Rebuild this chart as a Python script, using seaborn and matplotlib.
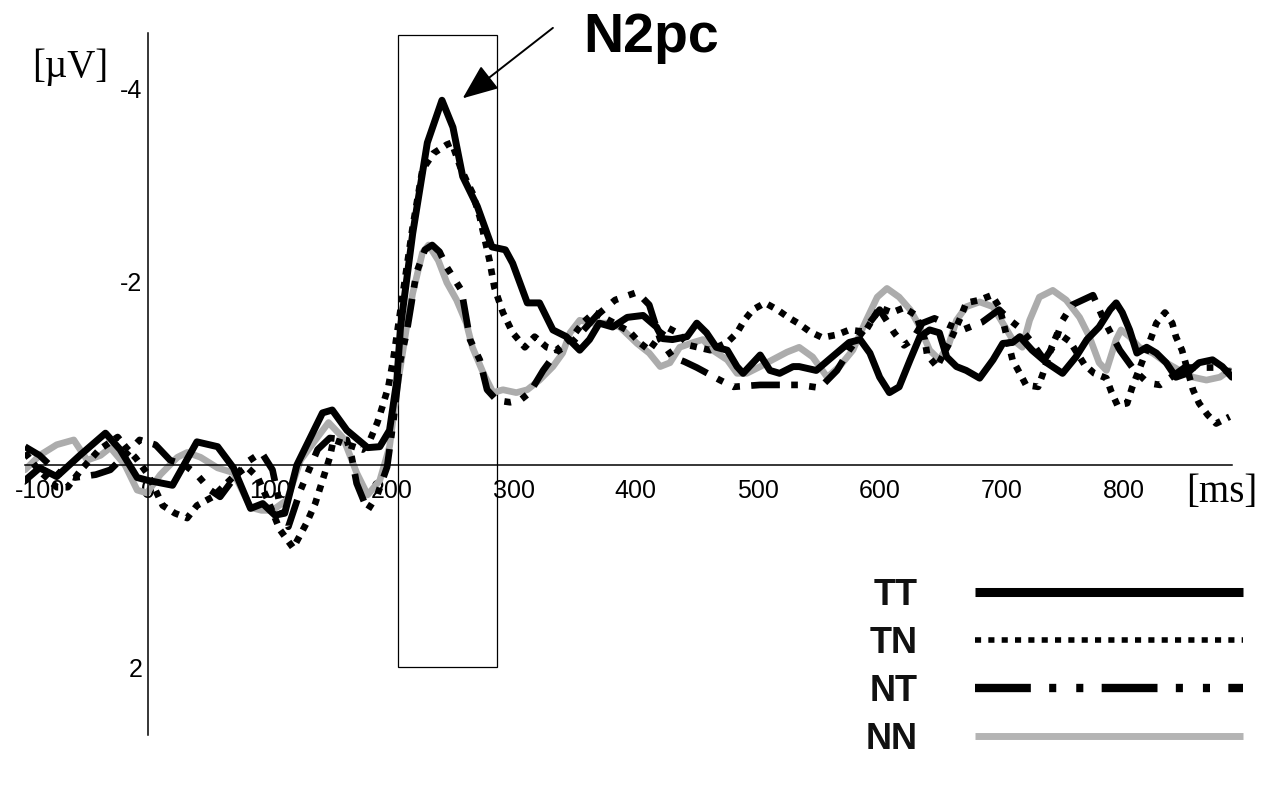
import numpy as np
import pandas as pd
import matplotlib
matplotlib.use("Agg")
import matplotlib.pyplot as plt
import matplotlib.transforms as mtransforms
from matplotlib.lines import Line2D
from matplotlib.patches import Rectangle
from matplotlib.font_manager import FontProperties
import seaborn as sns

# ---------------- data (ms, µV; negative up) ----------------
tt_ms = [-101, -89, -75, -56, -35, -23, -9, 0, 20, 40, 57, 70, 84, 94, 104, 112, 122, 143, 151, 163,
         180, 190, 198, 204, 207, 217, 229, 241, 250, 258, 270, 282, 293, 299, 311, 321, 332, 343, 354, 362,
         370, 381, 393, 406, 417, 422, 430, 442, 450, 458, 466, 475, 483, 488, 502, 510, 518, 529, 534, 548,
         561, 575, 584, 592, 600, 608, 616, 625, 633, 641, 649, 655, 663, 671, 682, 693, 701, 709, 715, 725,
         737, 750, 761, 770, 780, 789, 794, 799, 805, 811, 819, 827, 835, 843, 852, 862, 873, 881, 889]
tt_uv = [0.16, 0.03, 0.12, -0.10, -0.33, -0.16, 0.13, 0.16, 0.21, -0.24, -0.19, 0.03, 0.45, 0.40, 0.52, 0.50, 0.0, -0.54, -0.57, -0.36,
         -0.18, -0.19, -0.36, -0.88, -1.43, -2.40, -3.34, -3.78, -3.50, -2.99, -2.68, -2.26, -2.23, -2.09, -1.68, -1.68, -1.40, -1.33, -1.19, -1.30,
         -1.47, -1.43, -1.53, -1.55, -1.43, -1.31, -1.30, -1.33, -1.47, -1.37, -1.22, -1.19, -1.02, -0.95, -1.14, -0.98, -0.95, -1.02, -1.02, -0.98,
         -1.12, -1.27, -1.30, -1.16, -0.91, -0.75, -0.81, -1.09, -1.33, -1.40, -1.37, -1.12, -1.02, -0.98, -0.90, -1.09, -1.26, -1.27, -1.33, -1.19,
         -1.06, -0.95, -1.12, -1.30, -1.43, -1.61, -1.68, -1.58, -1.40, -1.16, -1.22, -1.16, -1.06, -0.91, -0.95, -1.06, -1.09, -1.02, -0.91]

tn_ms = [-101, -90, -75, -66, -55, -40, -25, -18, -10, 0, 12, 22, 32, 40, 53, 61, 70, 81, 90, 98,
         108, 119, 130, 137, 143, 149, 152, 159, 176, 182, 188, 192, 197, 201, 209, 217, 225, 234, 245, 249,
         256, 261, 266, 272, 280, 284, 291, 299, 309, 317, 327, 335, 348, 357, 366, 381, 395, 403, 411, 425,
         434, 444, 461, 475, 483, 489, 496, 506, 516, 525, 533, 543, 553, 565, 575, 588, 600, 610, 620, 630,
         637, 639, 647, 657, 666, 671, 682, 692, 698, 701, 709, 715, 720, 730, 734, 741, 746, 756, 768, 776,
         786, 790, 795, 803, 807, 811, 815, 823, 827, 834, 840, 843, 848, 857, 862, 869, 876, 887]
tn_uv = [-0.13, 0.05, 0.23, 0.23, 0.05, -0.16, -0.29, -0.18, -0.07, 0.10, 0.42, 0.50, 0.55, 0.42, 0.33, 0.23, 0.12, 0.02, 0.13, 0.36,
         0.67, 0.86, 0.60, 0.40, 0.16, -0.08, -0.26, -0.23, -0.16, -0.26, -0.44, -0.60, -0.81, -1.09, -1.78, -2.47, -3.06, -3.23, -3.32, -3.34,
         -3.09, -2.95, -2.82, -2.57, -2.12, -1.84, -1.58, -1.37, -1.22, -1.33, -1.22, -1.19, -1.33, -1.48, -1.58, -1.48, -1.38, -1.27, -1.19, -1.43,
         -1.37, -1.24, -1.19, -1.27, -1.37, -1.50, -1.61, -1.68, -1.61, -1.53, -1.47, -1.38, -1.32, -1.35, -1.40, -1.38, -1.63, -1.58, -1.63, -1.55,
         -1.30, -1.14, -1.02, -1.26, -1.52, -1.68, -1.71, -1.76, -1.64, -1.50, -1.09, -0.95, -0.83, -0.81, -0.95, -1.22, -1.37, -1.28, -1.04, -0.95,
         -0.90, -0.76, -0.62, -0.64, -0.80, -0.93, -1.06, -1.33, -1.47, -1.58, -1.47, -1.33, -1.19, -0.78, -0.64, -0.52, -0.43, -0.50]

nt_ms = [-101, -89, -75, -60, -43, -31, -19, -7, 6, 18, 30, 40, 51, 59, 69, 81, 93, 102, 108, 115,
         125, 139, 149, 163, 167, 171, 180, 188, 196, 201, 207, 212, 220, 227, 233, 239, 245, 257, 264, 272,
         278, 286, 297, 305, 313, 324, 335, 350, 368, 383, 401, 411, 420, 430, 440, 450, 469, 480, 502, 534,
         551, 565, 575, 586, 600, 612, 620, 627, 635, 645, 657, 668, 684, 698, 707, 715, 723, 735, 743, 750,
         758, 775, 784, 797, 809, 820, 830, 838, 850, 862, 875, 889]
nt_uv = [-0.19, -0.10, 0.07, 0.13, 0.10, 0.05, -0.10, -0.26, -0.21, -0.05, 0.0, 0.10, 0.26, 0.33, 0.16, -0.03, -0.13, 0.05, 0.41, 0.64,
         0.26, -0.16, -0.28, -0.26, -0.08, 0.19, 0.47, 0.31, 0.02, -0.44, -1.09, -1.37, -1.99, -2.23, -2.28, -2.21, -2.05, -1.81, -1.30, -1.09,
         -0.78, -0.67, -0.65, -0.67, -0.75, -0.98, -1.17, -1.30, -1.55, -1.71, -1.79, -1.66, -1.30, -1.12, -1.07, -1.01, -0.88, -0.81, -0.83, -0.83,
         -0.80, -0.98, -1.19, -1.38, -1.61, -1.37, -1.24, -1.30, -1.47, -1.52, -1.45, -1.40, -1.48, -1.61, -1.50, -1.42, -1.30, -1.09, -1.24, -1.50,
         -1.66, -1.76, -1.50, -1.19, -0.98, -0.85, -0.83, -0.90, -1.01, -1.01, -1.01, -0.96]

nn_ms = [-101, -89, -75, -61, -50, -39, -31, -19, -9, -1, 10, 24, 32, 43, 57, 70, 84, 93, 102, 114,
         125, 139, 148, 160, 171, 180, 190, 198, 204, 212, 217, 225, 230, 238, 245, 253, 261, 266, 275, 283,
         291, 302, 311, 321, 332, 340, 346, 354, 365, 376, 387, 401, 411, 420, 428, 436, 447, 455, 463, 475,
         483, 491, 502, 512, 524, 534, 545, 557, 567, 578, 589, 598, 606, 616, 625, 633, 641, 649, 657, 663,
         671, 682, 693, 701, 709, 717, 723, 731, 742, 753, 764, 772, 780, 786, 794, 798, 805, 813, 824, 835,
         846, 857, 868, 879, 887]
nn_uv = [0.05, -0.10, -0.21, -0.26, -0.05, -0.10, -0.18, 0.0, 0.26, 0.29, 0.10, -0.08, -0.13, -0.08, 0.03, 0.08, 0.44, 0.47, 0.47, 0.36,
         -0.05, -0.29, -0.44, -0.28, 0.08, 0.31, 0.16, -0.19, -0.78, -1.43, -1.78, -2.20, -2.28, -2.12, -1.89, -1.71, -1.47, -1.22, -0.95, -0.75,
         -0.78, -0.75, -0.78, -0.88, -1.02, -1.16, -1.37, -1.50, -1.47, -1.47, -1.43, -1.26, -1.16, -1.02, -1.06, -1.22, -1.27, -1.30, -1.19, -1.09,
         -0.95, -0.95, -1.02, -1.09, -1.17, -1.22, -1.12, -0.91, -1.02, -1.19, -1.50, -1.74, -1.83, -1.74, -1.61, -1.43, -1.19, -1.09, -1.26, -1.50,
         -1.64, -1.69, -1.64, -1.47, -1.30, -1.22, -1.50, -1.74, -1.81, -1.71, -1.53, -1.33, -1.06, -0.98, -1.30, -1.40, -1.33, -1.22, -1.16, -1.06,
         -0.98, -0.91, -0.88, -0.91, -0.98]

conditions = ["TT", "TN", "NT", "NN"]
x_ticks = [-100, 0, 100, 200, 300, 400, 500, 600, 700, 800]
y_major = [-4, -2, 2]
y_minor = [-3, -1, 1]
n2pc_window = (205, 286)      # ms
n2pc_box_uv = (-4.456, 2.09)  # µV extent of the marking box

# ---------------- style ----------------
sns.set_style("white")
plt.rcParams["font.family"] = ["Liberation Sans", "DejaVu Sans"]
plt.rcParams["axes.unicode_minus"] = False
plt.rcParams["text.color"] = "black"
plt.rcParams["xtick.color"] = "black"
plt.rcParams["ytick.color"] = "black"
plt.rcParams["xtick.labelcolor"] = "black"
plt.rcParams["ytick.labelcolor"] = "black"

W, H = 1267, 793
fig = plt.figure(figsize=(W / 100, H / 100), dpi=100)
ax = fig.add_axes([25 / W, 1 - 735 / H, 1207 / W, 702 / H])
ax.set_xlim(-101, 889)
ax.set_ylim(2.798, -4.477)

# series
nn_df = pd.DataFrame({"ms": nn_ms, "uv": nn_uv})
nt_df = pd.DataFrame({"ms": nt_ms, "uv": nt_uv})
tn_df = pd.DataFrame({"ms": tn_ms, "uv": tn_uv})
tt_df = pd.DataFrame({"ms": tt_ms, "uv": tt_uv})

sns.lineplot(data=nn_df, x="ms", y="uv", ax=ax, color="#acacac", linewidth=4.8,
             solid_joinstyle="round", solid_capstyle="round")
sns.lineplot(data=nt_df, x="ms", y="uv", ax=ax, color="black", linewidth=4.8,
             linestyle=(0, (4.3, 1.7, 1.0, 1.7, 1.0, 1.7)))
sns.lineplot(data=tn_df, x="ms", y="uv", ax=ax, color="black", linewidth=4.8,
             linestyle=(0, (1.0, 1.1)))
sns.lineplot(data=tt_df, x="ms", y="uv", ax=ax, color="black", linewidth=5.0,
             solid_joinstyle="round", solid_capstyle="round")

# axes through the origin
for side in ["top", "right"]:
    ax.spines[side].set_visible(False)
ax.spines["left"].set_position(("data", 0))
ax.spines["bottom"].set_position(("data", 0))
for side in ["left", "bottom"]:
    ax.spines[side].set_linewidth(1.1)
    ax.spines[side].set_color("black")
ax.set_xlabel("")
ax.set_ylabel("")

ax.set_xticks(x_ticks)
ax.set_xticklabels([str(v) for v in x_ticks])
ax.set_yticks(y_major)
ax.set_yticklabels([str(v) for v in y_major])
ax.set_yticks(y_minor, minor=True)
ax.tick_params(axis="x", direction="out", length=3, width=0.8, pad=7,
               labelsize=18, colors="black")
ax.tick_params(axis="y", which="major", direction="out", length=3, width=0.8, pad=1,
               labelsize=18, colors="black")
ax.tick_params(axis="y", which="minor", direction="out", length=3, width=0.8, colors="black")
for lab in ax.get_yticklabels():
    lab.set_verticalalignment("top")
xl = ax.get_xticklabels()
xl[0].set_transform(xl[0].get_transform() +
                    mtransforms.ScaledTranslation(14 / 100, 0, fig.dpi_scale_trans))
ax.grid(False)

# N2pc window box
ax.add_patch(Rectangle((n2pc_window[0], n2pc_box_uv[0]), n2pc_window[1] - n2pc_window[0],
                       n2pc_box_uv[1] - n2pc_box_uv[0], fill=False, edgecolor="black",
                       linewidth=0.9, clip_on=False, zorder=1))

# annotation
ax.annotate("", xy=(258, -3.80), xytext=(332, -4.53), xycoords="data", textcoords="data",
            annotation_clip=False,
            arrowprops=dict(arrowstyle="-|>,head_length=1.1,head_width=0.45",
                            mutation_scale=20, color="black", lw=1.4, shrinkA=0, shrinkB=0))
ax.text(357, -4.43, "N2pc", ha="left", va="center", fontsize=40, fontweight="bold",
        family="Liberation Sans", color="black", clip_on=False)
ax.text(-64, -4.12, "[µV]", ha="center", va="center", fontsize=28,
        family="Liberation Serif", color="black", clip_on=False)
ax.text(881, 0.29, "[ms]", ha="center", va="center", fontsize=28,
        family="Liberation Serif", color="black", clip_on=False)

# legend (label left, key right)
handles = [
    Line2D([], [], color="black", lw=6.5, solid_capstyle="butt"),
    Line2D([], [], color="black", lw=4.0, linestyle=(0, (1.1, 1.3))),
    Line2D([], [], color="black", lw=6.0, linestyle=(0, (6.7, 2.2, 0.85, 2.4, 0.85, 2.2))),
    Line2D([], [], color="#b4b4b4", lw=5.0, solid_capstyle="butt"),
]
leg = fig.legend(handles, conditions, loc="upper right",
                 bbox_to_anchor=(1243 / W, 1 - 578 / H), bbox_transform=fig.transFigure,
                 frameon=False, markerfirst=False, borderpad=0, borderaxespad=0,
                 handlelength=7.42, handletextpad=1.58, labelspacing=0.36,
                 prop=FontProperties(family="Liberation Sans", weight="bold", size=26))
for t in leg.get_texts():
    t.set_color("#111111")

fig.savefig("out.png", dpi=100)
